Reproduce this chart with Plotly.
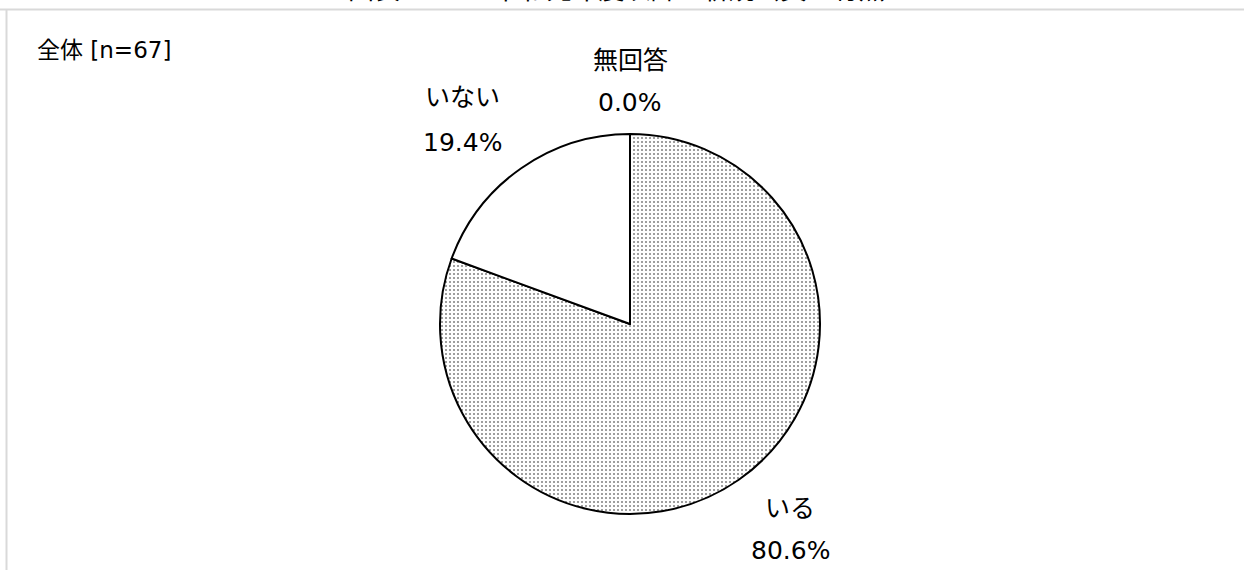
import plotly.graph_objects as go

labels = ["いる", "いない", "無回答"]
values = [80.6, 19.4, 0.0]
pct_text = ["80.6%", "19.4%", "0.0%"]
title_text = "図表　5-1　令和元年度以降の新規会員の有無"
subtitle_text = "全体 [n=67]"

W, H = 1244, 570
FONT = "DejaVu Sans, Noto Sans CJK JP, sans-serif"

cx, cy, r = 630, 324, 190

fig = go.Figure()
fig.add_trace(go.Pie(
    labels=labels,
    values=values,
    sort=False,
    direction="clockwise",
    rotation=0,
    textinfo="none",
    hoverinfo="label+percent",
    showlegend=False,
    marker=dict(
        colors=["white", "white", "white"],
        line=dict(color="black", width=2),
        pattern=dict(shape=[".", "", ""], fgcolor="black", bgcolor="white",
                     size=4, solidity=0.2, fillmode="overlay"),
    ),
    domain=dict(x=[(cx - r) / W, (cx + r) / W],
                y=[(H - cy - r) / H, (H - cy + r) / H]),
))

def px(x, y):
    return x / W, 1 - y / H

# label positions (pixels)
label_pos = {"いる": (790, 508, 550), "いない": (462, 98, 142), "無回答": (630, 60, 102)}
annotations = []
for lab, pt in zip(labels, pct_text):
    x, y1, y2 = label_pos[lab]
    for txt, yy in ((lab, y1), (pt, y2)):
        ax, ay = px(x, yy)
        annotations.append(dict(x=ax, y=ay, xref="paper", yref="paper", text=txt,
                                showarrow=False, xanchor="center", yanchor="middle",
                                font=dict(size=25, color="black", family=FONT)))

ax, ay = px(35, 50)
annotations.append(dict(x=ax, y=ay, xref="paper", yref="paper", text=subtitle_text,
                        showarrow=False, xanchor="left", yanchor="middle",
                        font=dict(size=23, color="black", family=FONT)))
tx, ty = px(616, 0)
annotations.append(dict(x=tx, y=ty, xref="paper", yref="paper", text=title_text,
                        showarrow=False, xanchor="center", yanchor="bottom", yshift=-7,
                        font=dict(size=26, color="black", family=FONT)))

shapes = [
    dict(type="line", xref="paper", yref="paper", x0=px(0, 9.5)[0], x1=1.01,
         y0=px(0, 9.5)[1], y1=px(0, 9.5)[1], line=dict(color="#d9d9d9", width=2)),
    dict(type="line", xref="paper", yref="paper", x0=px(6.5, 0)[0], x1=px(6.5, 0)[0],
         y0=px(0, 9.5)[1], y1=-0.01, line=dict(color="#d9d9d9", width=2)),
]

fig.update_layout(
    width=W, height=H,
    margin=dict(l=0, r=0, t=0, b=0),
    paper_bgcolor="white", plot_bgcolor="white",
    annotations=annotations, shapes=shapes,
    font=dict(family=FONT),
)

fig.write_html("out.html", config={"displayModeBar": False},
               post_script="document.body.style.margin='0';document.body.style.overflow='hidden';")
